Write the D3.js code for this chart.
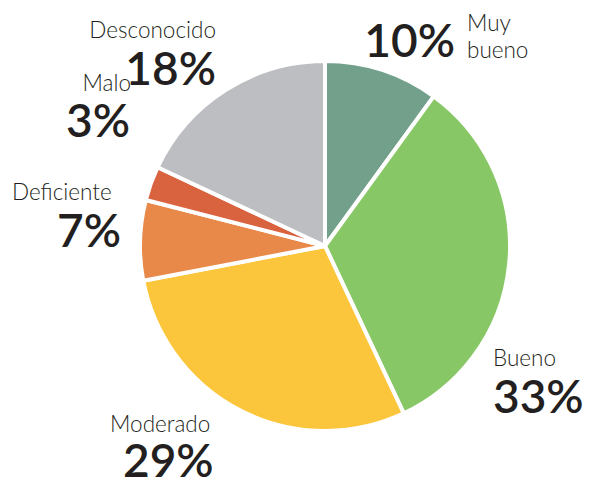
<!DOCTYPE html>
<html lang="es">
<head>
    <meta charset="UTF-8">
    <title>Distribución</title>
    <style>
        body { margin: 0; background: #fff; }
        svg text { font-family: Lato, "Open Sans", sans-serif; fill: #231f20; }
        .lbl { font-size: 22.5px; font-weight: 300; }
        .pct { font-size: 46px; font-weight: 600; }
    </style>
</head>
<body>
<script src="https://d3js.org/d3.v7.min.js"></script>
<script>
    const categories = ["Muy bueno", "Bueno", "Moderado", "Deficiente", "Malo", "Desconocido"];
    const values = [10, 33, 29, 7, 3, 18];
    const colors = ["#72a08a", "#88c766", "#fcc63c", "#e8894a", "#d9633f", "#bdbec2"];

    const width = 591;
    const height = 482;
    const cx = 325, cy = 246, radius = 185;

    const svg = d3.select("body").append("svg")
        .attr("width", width)
        .attr("height", height);

    const pie = d3.pie().sort(null).value(d => d);
    const arc = d3.arc().innerRadius(0).outerRadius(radius);

    const g = svg.append("g").attr("transform", `translate(${cx},${cy})`);
    g.selectAll("path")
        .data(pie(values))
        .join("path")
        .attr("d", arc)
        .attr("fill", (d, i) => colors[i])
        .attr("stroke", "#fff")
        .attr("stroke-width", 4)
        .attr("stroke-linejoin", "round");

    // where each name and percentage sits
    const labelPos = [
        { lines: ["Muy", "bueno"], x: 467, ys: [31, 58], px: 455, py: 57, anchor: "start", panchor: "end" },
        { lines: ["Bueno"], x: 493, ys: [366], px: 493, py: 413, anchor: "start", panchor: "start" },
        { lines: ["Moderado"], x: 110, ys: [432], px: 123, py: 477, anchor: "start", panchor: "start" },
        { lines: ["Deficiente"], x: 12, ys: [200], px: 121, py: 247, anchor: "start", panchor: "end" },
        { lines: ["Malo"], x: 131, ys: [91], px: 130, py: 137, anchor: "end", panchor: "end" },
        { lines: ["Desconocido"], x: 216, ys: [38], px: 216, py: 85, anchor: "end", panchor: "end" }
    ];

    categories.forEach((c, i) => {
        const p = labelPos[i];
        p.lines.forEach((line, j) => {
            svg.append("text").attr("class", "lbl")
                .attr("x", p.x).attr("y", p.ys[j])
                .attr("text-anchor", p.anchor)
                .text(line);
        });
        svg.append("text").attr("class", "pct")
            .attr("x", p.px).attr("y", p.py)
            .attr("text-anchor", p.panchor)
            .text(values[i] + "%");
    });
</script>
</body>
</html>
